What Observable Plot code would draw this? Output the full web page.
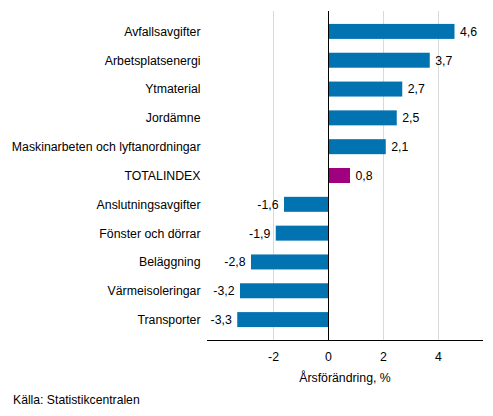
<!DOCTYPE html>
<html>
<head>
<meta charset="utf-8">
<script src="https://cdn.jsdelivr.net/npm/d3@7"></script>
<script src="https://cdn.jsdelivr.net/npm/@observablehq/plot@0.6"></script>
<style>
  body { margin: 0; background: #fff; font-family: "Liberation Sans", Arial, sans-serif; }
  #wrap { position: relative; width: 493px; height: 416px; }
  #src { position: absolute; left: 13px; top: 393px; font-size: 12.2px; color: #000; }
</style>
</head>
<body>
<div id="wrap"><div id="chart"></div><div id="src">Källa: Statistikcentralen</div></div>
<script>
const categories = ["Avfallsavgifter", "Arbetsplatsenergi", "Ytmaterial", "Jordämne",
  "Maskinarbeten och lyftanordningar", "TOTALINDEX", "Anslutningsavgifter",
  "Fönster och dörrar", "Beläggning", "Värmeisoleringar", "Transporter"];
const values = [4.6, 3.7, 2.7, 2.5, 2.1, 0.8, -1.6, -1.9, -2.8, -3.2, -3.3];
const xTicks = [-2, 0, 2, 4];
const highlight = "TOTALINDEX";

const data = categories.map((c, i) => ({cat: c, v: values[i]}));
const pos = data.filter(d => d.v >= 0);
const neg = data.filter(d => d.v < 0);
const fmt = v => v.toFixed(1).replace(".", ",");
const fs = 12.3;

const chart = Plot.plot({
  width: 493,
  height: 385,
  marginTop: 11,
  marginBottom: 45,
  marginLeft: 207,
  marginRight: 11,
  style: {fontFamily: "'Liberation Sans', Arial, sans-serif", fontSize: fs + "px", color: "#000"},
  x: {domain: [-4.4, 5.6]},
  y: {domain: categories, paddingInner: 0.48, paddingOuter: 0.24, insetTop: 6, insetBottom: 6, round: false},
  marks: [
    Plot.gridX(xTicks.filter(d => d !== 0), {stroke: "#d9d9d9", strokeOpacity: 1, strokeWidth: 1}),
    Plot.barX(data, {x: "v", y: "cat", fill: d => d.cat === highlight ? "#a0007f" : "#0073b0"}),
    Plot.ruleX([0], {stroke: "#000", strokeWidth: 1}),
    Plot.frame({anchor: "bottom", stroke: "#000"}),
    Plot.text(pos, {x: "v", y: "cat", text: d => fmt(d.v), textAnchor: "start", dx: 5, fill: "#000", fontSize: fs}),
    Plot.text(neg, {x: "v", y: "cat", text: d => fmt(d.v), textAnchor: "end", dx: -6, fill: "#000", fontSize: fs}),
    Plot.axisY({tickSize: 0, tickPadding: 7, label: null, fontSize: fs}),
    Plot.axisX(xTicks, {tickSize: 0, tickPadding: 12, tickFormat: d => String(d),
      label: "Årsförändring, %", labelAnchor: "center", labelArrow: false, labelOffset: 41, fontSize: fs})
  ]
});
document.getElementById("chart").appendChild(chart);
</script>
</body>
</html>
